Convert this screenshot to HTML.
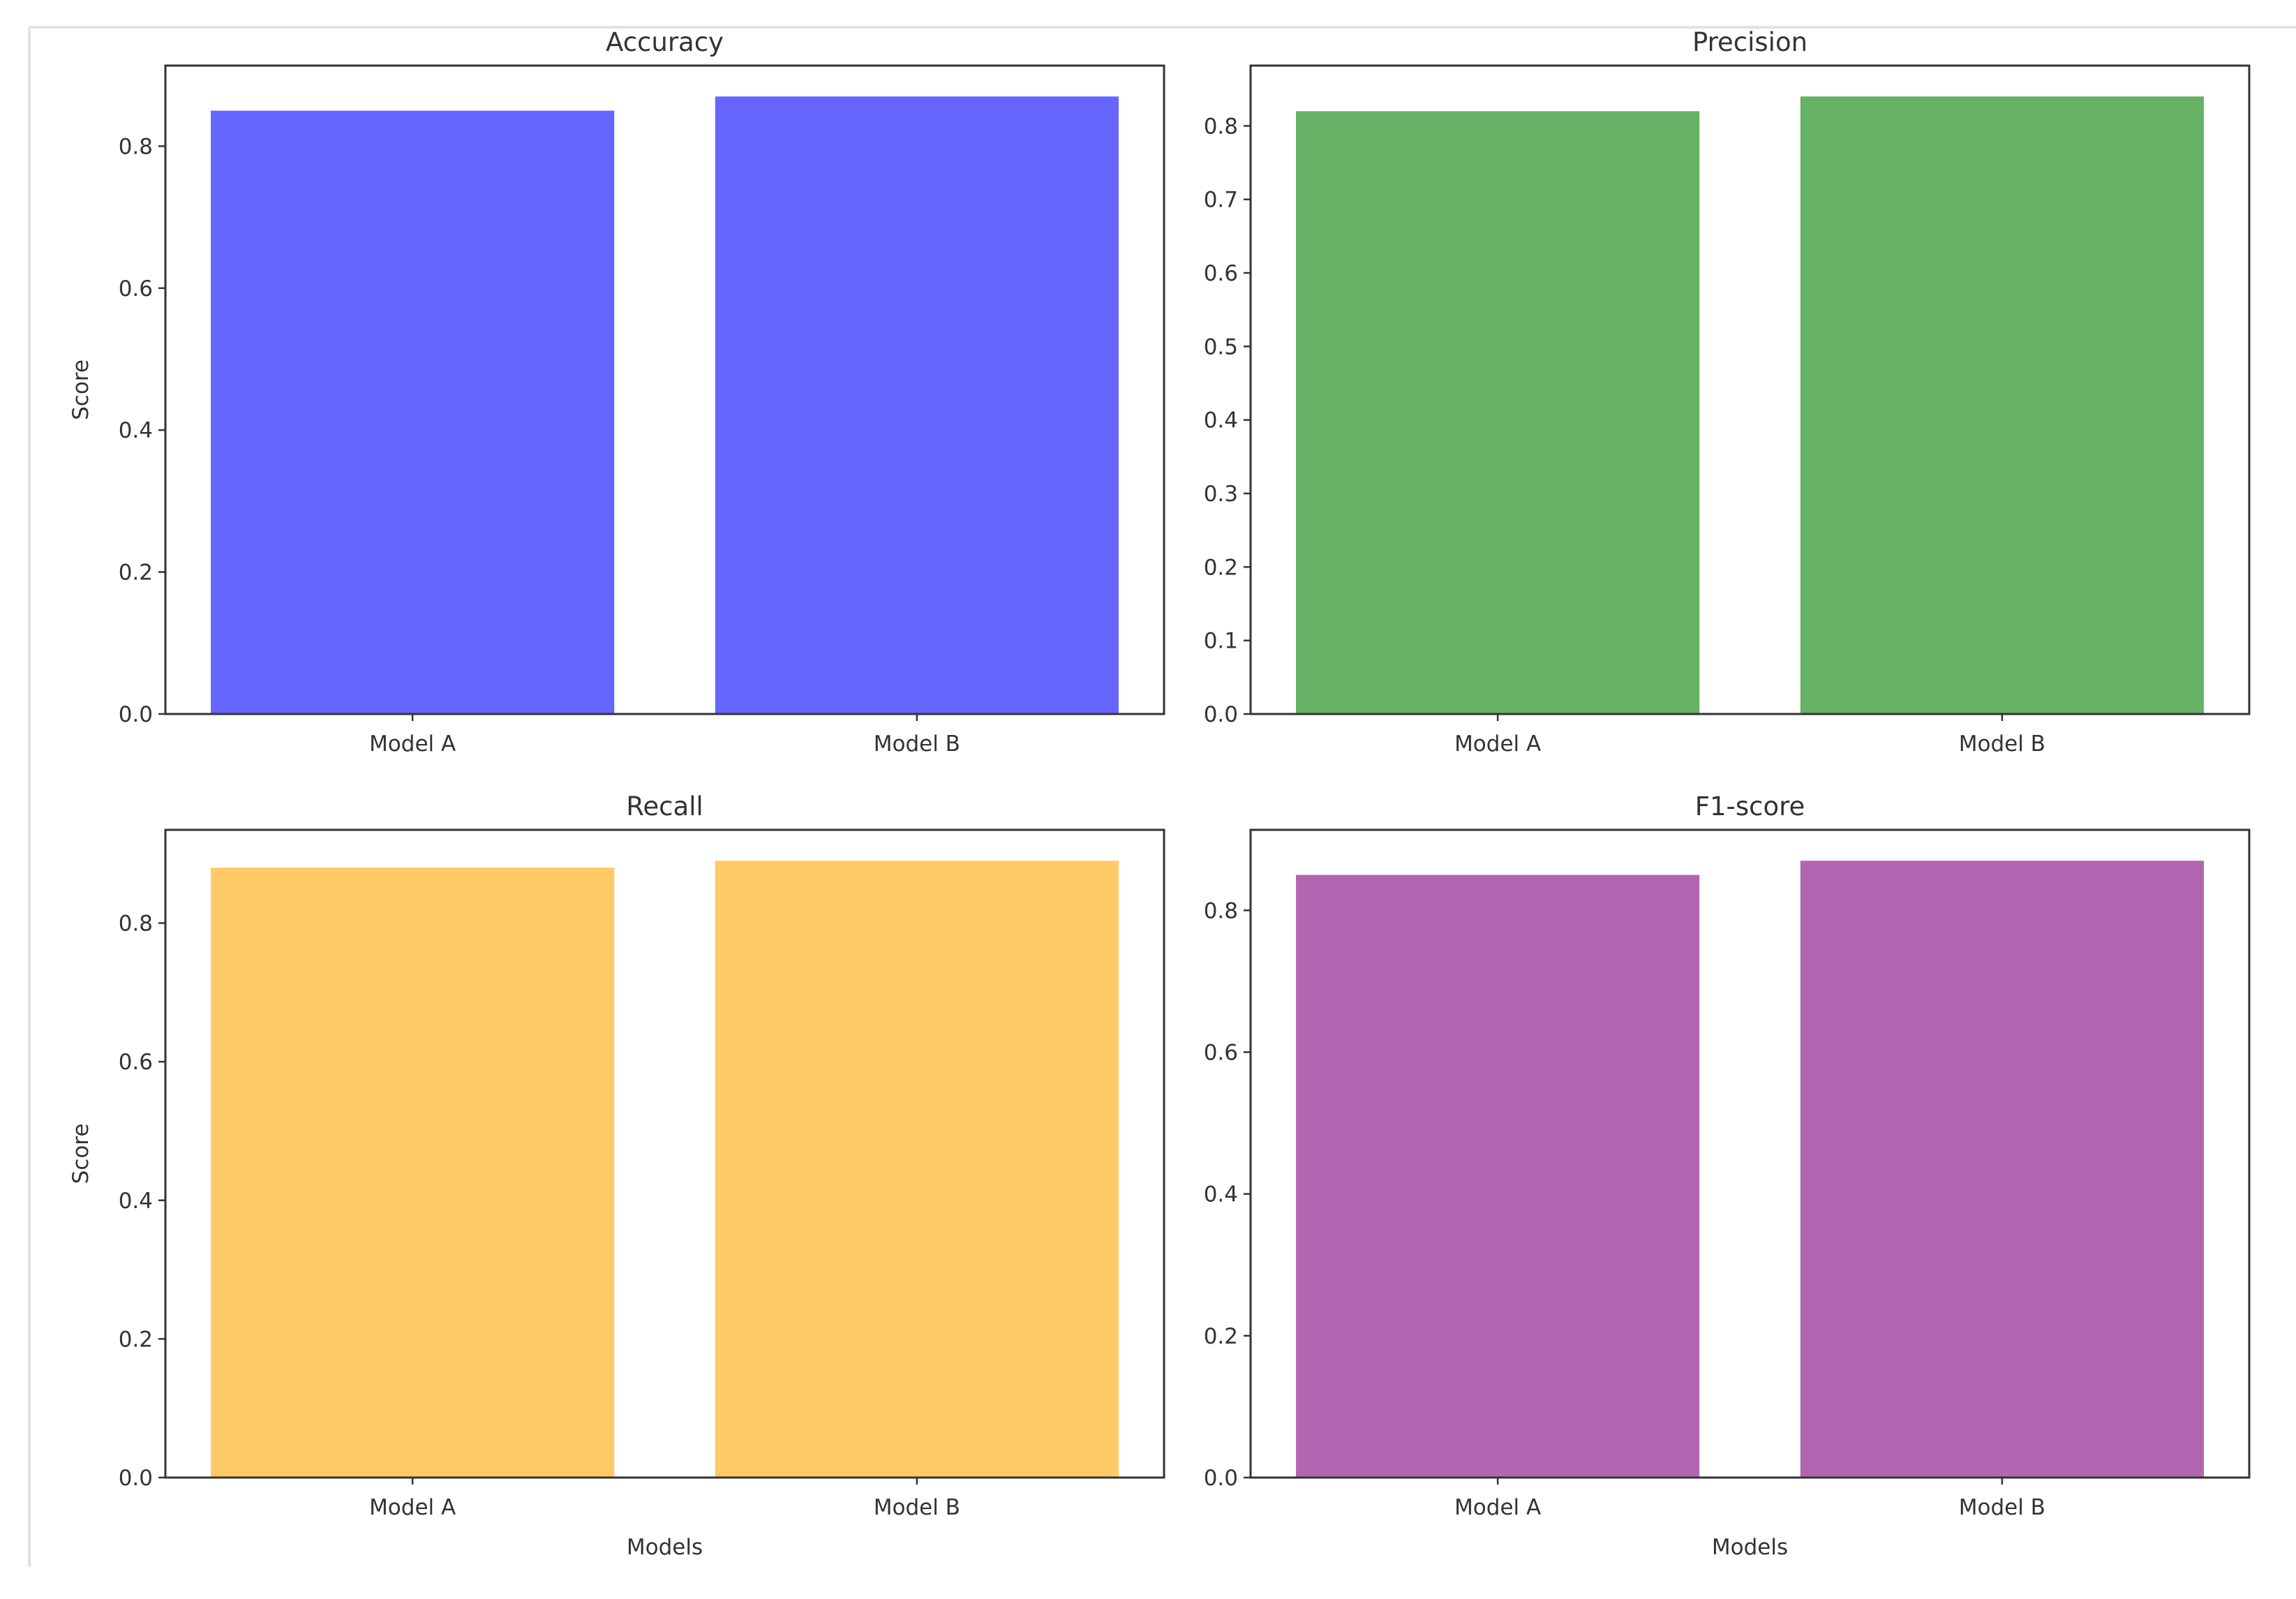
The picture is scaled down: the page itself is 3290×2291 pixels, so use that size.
<!DOCTYPE html>
<html><head><meta charset="utf-8"><style>
html,body{margin:0;padding:0;background:#fff}
svg{display:block}
text{font-family:"DejaVu Sans","Liberation Sans",sans-serif;fill:#333}
</style></head><body>
<svg id="fig" width="3290" height="2291" viewBox="0 0 3290 2291" xmlns="http://www.w3.org/2000/svg">
<rect x="0" y="0" width="3290" height="2291" fill="#fff"/>
<line x1="42" y1="39" x2="3290" y2="39" stroke="#e2e2e2" stroke-width="4"/>
<line x1="42" y1="39" x2="42" y2="2245" stroke="#e2e2e2" stroke-width="4"/>
<g id="plots"></g>
</svg>
<script>
const categories = ["Model A", "Model B"];
const accuracyValues = [0.85, 0.87];
const precisionValues = [0.82, 0.84];
const recallValues = [0.88, 0.89];
const f1Values = [0.85, 0.87];
const accuracyTicks = [0.0, 0.2, 0.4, 0.6, 0.8];
const precisionTicks = [0.0, 0.1, 0.2, 0.3, 0.4, 0.5, 0.6, 0.7, 0.8];
const recallTicks = [0.0, 0.2, 0.4, 0.6, 0.8];
const f1Ticks = [0.0, 0.2, 0.4, 0.6, 0.8];
const panelTitles = ["Accuracy", "Precision", "Recall", "F1-score"];

const NS = "http://www.w3.org/2000/svg";
const root = document.getElementById("plots");
function mk(tag, attrs, parent) {
  const e = document.createElementNS(NS, tag);
  for (const k in attrs) e.setAttribute(k, attrs[k]);
  parent.appendChild(e);
  return e;
}
const panels = [
  {vals: accuracyValues, ticks: accuracyTicks, x0: 237, x1: 1668, y0: 94, y1: 1023, color: "#6666ff", key: "accuracy", ylabel: true, xlabel: false},
  {vals: precisionValues, ticks: precisionTicks, x0: 1792, x1: 3223, y0: 94, y1: 1023, color: "#66b266", key: "precision", ylabel: false, xlabel: false},
  {vals: recallValues, ticks: recallTicks, x0: 237, x1: 1668, y0: 1189, y1: 2117, color: "#ffc966", key: "recall", ylabel: true, xlabel: true},
  {vals: f1Values, ticks: f1Ticks, x0: 1792, x1: 3223, y0: 1189, y1: 2117, color: "#b266b2", key: "f1-score", ylabel: false, xlabel: true}
];
panels.forEach((p, i) => {
  const g = mk("g", {}, root);
  
  
  const ymax = Math.max(...p.vals) * 1.05;
  const xmin = -0.49, xmax = categories.length - 1 + 0.49;
  const sx = v => p.x0 + (v - xmin) / (xmax - xmin) * (p.x1 - p.x0);
  const sy = v => p.y1 - v / ymax * (p.y1 - p.y0);
  p.vals.forEach((v, j) => {
    const r = mk("rect", {x: sx(j - 0.4), y: sy(v), width: sx(j + 0.4) - sx(j - 0.4), height: sy(0) - sy(v), fill: p.color}, g);
    
    
  });
  mk("rect", {x: p.x0, y: p.y0, width: p.x1 - p.x0, height: p.y1 - p.y0, fill: "none", stroke: "#333", "stroke-width": 3}, g);
  p.ticks.forEach(t => {
    const y = sy(t);
    mk("line", {x1: p.x0 - 10, y1: y, x2: p.x0, y2: y, stroke: "#333", "stroke-width": 2.5}, g);
    const tx = mk("text", {x: p.x0 - 18, y: y + 11, "font-size": 31, "text-anchor": "end"}, g);
    tx.textContent = t.toFixed(1);
    
    
  });
  categories.forEach((c, j) => {
    const x = sx(j);
    mk("line", {x1: x, y1: p.y1, x2: x, y2: p.y1 + 10, stroke: "#333", "stroke-width": 2.5}, g);
    const tx = mk("text", {x: x, y: p.y1 + 53, "font-size": 31, "text-anchor": "middle"}, g);
    tx.textContent = c;
    
    
  });
  const title = mk("text", {x: (p.x0 + p.x1) / 2, y: p.y0 - 21, "font-size": 37, "text-anchor": "middle"}, g);
  title.textContent = panelTitles[i];
  
  
  if (p.ylabel) {
    const cy = (p.y0 + p.y1) / 2;
    const yl = mk("text", {x: 0, y: 0, "font-size": 31, "text-anchor": "middle", transform: "translate(126," + cy + ") rotate(-90)"}, g);
    yl.textContent = "Score";
    
    
  }
  if (p.xlabel) {
    const xl = mk("text", {x: (p.x0 + p.x1) / 2, y: p.y1 + 110, "font-size": 31, "text-anchor": "middle"}, g);
    xl.textContent = "Models";
    
    
  }
});
</script>
</body></html>
